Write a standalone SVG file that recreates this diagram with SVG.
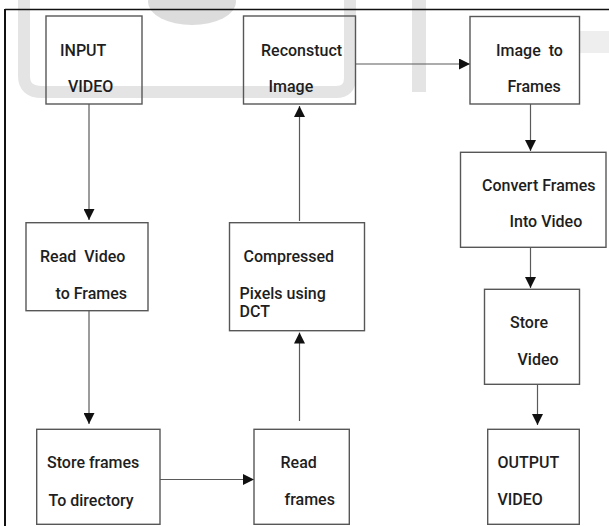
<svg xmlns="http://www.w3.org/2000/svg" width="609" height="526" viewBox="0 0 609 526">
<style>
  .box{fill:none;stroke:#575757;stroke-width:1.4}
  .lbl{font-family:Roboto,"Liberation Sans",sans-serif;font-size:16px;font-weight:500;fill:#1e1e1e}
  .con{fill:none;stroke:#5a5a5a;stroke-width:1.2}
  .wm{fill:none;stroke:#e4e4e4}
</style>
<defs>
  <marker id="ah" markerUnits="userSpaceOnUse" markerWidth="11" markerHeight="11" refX="11" refY="5.5" orient="auto">
    <path d="M0,0 L11,5.5 L0,11 Z" fill="#111"/>
  </marker>
</defs>
<rect width="609" height="526" fill="#fff"/>
<g id="watermark">
  <ellipse cx="192" cy="2" rx="44" ry="23" fill="#dcdcdc"/>
  <path class="wm" stroke-width="12" d="M24 0 V76 Q24 92 42 92 H336 Q350 92 350 78 V0"/>
  <path class="wm" stroke-width="14" d="M419 0 V92"/>
  <path stroke="#eeeeee" stroke-width="22" d="M580 42 H609"/>
</g>
<g id="frame" stroke="#111">
  <line x1="5" y1="9.5" x2="609" y2="9.5" stroke-width="1.4"/>
  <line x1="5" y1="9" x2="5" y2="526" stroke-width="2"/>
</g>
<g id="connectors">
  <line class="con" x1="89" y1="104" x2="89" y2="220" marker-end="url(#ah)"/>
  <line class="con" x1="89" y1="311" x2="89" y2="424" marker-end="url(#ah)"/>
  <line class="con" x1="160" y1="479.5" x2="254" y2="479.5" marker-end="url(#ah)"/>
  <line class="con" x1="299.5" y1="421" x2="299.5" y2="332.5" marker-end="url(#ah)"/>
  <line class="con" x1="299.5" y1="221" x2="299.5" y2="106" marker-end="url(#ah)"/>
  <line class="con" x1="356" y1="64" x2="470" y2="64" marker-end="url(#ah)"/>
  <line class="con" x1="530.5" y1="104" x2="530.5" y2="151" marker-end="url(#ah)"/>
  <line class="con" x1="530.5" y1="247.5" x2="530.5" y2="288" marker-end="url(#ah)"/>
  <line class="con" x1="537.5" y1="384.5" x2="537.5" y2="425" marker-end="url(#ah)"/>
</g>
<g id="input-video">
  <rect class="box" x="46" y="16" width="96" height="88"/>
  <text class="lbl" x="60" y="56">INPUT</text>
  <text class="lbl" x="68" y="92.3">VIDEO</text>
</g>
<g id="reconstuct-image">
  <rect class="box" x="243.5" y="16" width="112" height="88"/>
  <text class="lbl" x="261" y="56">Reconstuct</text>
  <text class="lbl" x="268.5" y="92">Image</text>
</g>
<g id="image-to-frames">
  <rect class="box" x="470" y="16.5" width="109.5" height="87.5"/>
  <text class="lbl" x="496" y="55.5" xml:space="preserve">Image  to</text>
  <text class="lbl" x="507.5" y="92.3">Frames</text>
</g>
<g id="read-video">
  <rect class="box" x="26" y="222.7" width="122" height="88"/>
  <text class="lbl" x="40" y="261.7" xml:space="preserve">Read  Video</text>
  <text class="lbl" x="55.5" y="298.7">to Frames</text>
</g>
<g id="compressed">
  <rect class="box" x="229.5" y="222.7" width="135" height="108"/>
  <text class="lbl" x="243.5" y="261.7">Compressed</text>
  <text class="lbl" x="239.5" y="299.3">Pixels using</text>
  <text class="lbl" x="239.5" y="316.7">DCT</text>
</g>
<g id="convert-frames">
  <rect class="box" x="460.5" y="152.3" width="145.5" height="95"/>
  <text class="lbl" x="482" y="190.7">Convert Frames</text>
  <text class="lbl" x="509.5" y="227.3">Into Video</text>
</g>
<g id="store-video">
  <rect class="box" x="484.5" y="289.3" width="95" height="95"/>
  <text class="lbl" x="510" y="327.7">Store</text>
  <text class="lbl" x="517.5" y="365">Video</text>
</g>
<g id="store-frames">
  <rect class="box" x="36.7" y="429.3" width="123.3" height="95"/>
  <text class="lbl" x="47" y="468.3">Store frames</text>
  <text class="lbl" x="48.5" y="506">To directory</text>
</g>
<g id="read-frames">
  <rect class="box" x="254" y="429.3" width="95.3" height="95"/>
  <text class="lbl" x="280.5" y="468.3">Read</text>
  <text class="lbl" x="284.5" y="505">frames</text>
</g>
<g id="output-video">
  <rect class="box" x="487.7" y="429.3" width="91.6" height="95"/>
  <text class="lbl" x="497.5" y="468.3">OUTPUT</text>
  <text class="lbl" x="497.5" y="505">VIDEO</text>
</g>
</svg>
